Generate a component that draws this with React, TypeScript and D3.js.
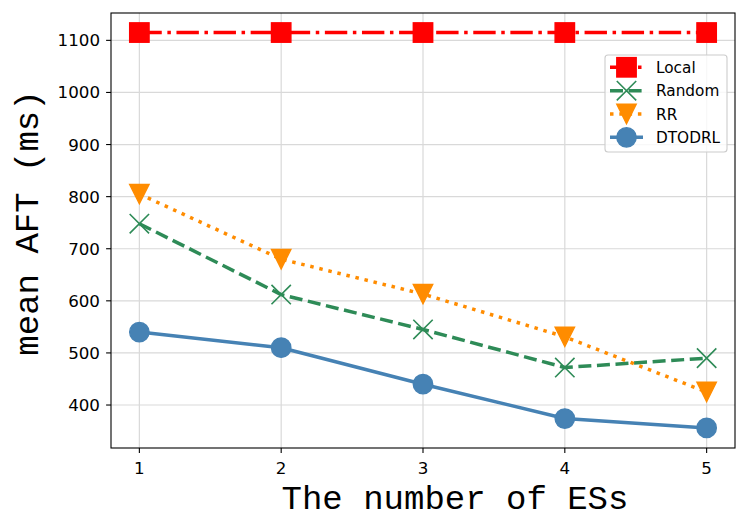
import { useEffect, useRef } from 'react';
import * as d3 from 'd3';

// values
const esCounts = [1, 2, 3, 4, 5];
const localAFT = [1115, 1115, 1115, 1115, 1115];
const randomAFT = [748, 612, 545, 472, 490];
const rrAFT = [805, 680, 613, 531, 425];
const dtodrlAFT = [540, 510, 440, 374, 356];
const yTicks = [400, 500, 600, 700, 800, 900, 1000, 1100];

type Marker = 'square' | 'x' | 'tri' | 'circle';

const series: { name: string; values: number[]; color: string; dash: string | null; marker: Marker }[] = [
  { name: 'Local', values: localAFT, color: '#ff0000', dash: '22.4,5.6,3.5,5.6', marker: 'square' },
  { name: 'Random', values: randomAFT, color: '#2e8b57', dash: '13,5.6', marker: 'x' },
  { name: 'RR', values: rrAFT, color: '#ff8c00', dash: '3.5,5.8', marker: 'tri' },
  { name: 'DTODRL', values: dtodrlAFT, color: '#4682b4', dash: null, marker: 'circle' },
];

const W = 748;
const H = 532;
const MS = 9.7; // half marker size

function drawMarker(g: d3.Selection<SVGGElement, unknown, null, undefined>, kind: Marker, color: string) {
  if (kind === 'square') {
    g.append('rect').attr('x', -MS).attr('y', -MS).attr('width', MS * 2).attr('height', MS * 2)
      .attr('fill', color).attr('stroke', color).attr('stroke-width', 1.4);
  } else if (kind === 'x') {
    g.append('path').attr('d', `M${-MS},${-MS}L${MS},${MS}M${-MS},${MS}L${MS},${-MS}`)
      .attr('fill', 'none').attr('stroke', color).attr('stroke-width', 1.6);
  } else if (kind === 'tri') {
    g.append('path').attr('d', `M0,${MS}L${-MS},${-MS}L${MS},${-MS}Z`)
      .attr('fill', color).attr('stroke', color).attr('stroke-width', 1.4).attr('stroke-linejoin', 'miter');
  } else {
    g.append('circle').attr('r', MS).attr('fill', color).attr('stroke', color).attr('stroke-width', 1.4);
  }
}

export default function App() {
  const svgRef = useRef<SVGSVGElement>(null);

  useEffect(() => {
    if (!svgRef.current) return;
    const svg = d3.select(svgRef.current);
    svg.selectAll('*').remove();

    const left = 111, right = 735, top = 13, bottom = 448;
    const x = d3.scaleLinear().domain([0.8, 5.2]).range([left, right]);
    const y = d3.scaleLinear().domain([317.5, 1152.5]).range([bottom, top]);

    svg.append('rect').attr('width', W).attr('height', H).attr('fill', '#ffffff');

    // grid
    const grid = svg.append('g').attr('stroke', '#d9d9d9').attr('stroke-width', 1.2);
    yTicks.forEach((t) => {
      grid.append('line').attr('x1', left).attr('x2', right).attr('y1', y(t)).attr('y2', y(t));
    });
    esCounts.forEach((t) => {
      grid.append('line').attr('y1', top).attr('y2', bottom).attr('x1', x(t)).attr('x2', x(t));
    });

    // series
    series.forEach((s) => {
      const pts = esCounts.map((c, i) => [c, s.values[i]] as [number, number]);
      const line = d3.line<[number, number]>().x((d) => x(d[0])).y((d) => y(d[1]));
      const p = svg.append('path').datum(pts).attr('d', line)
        .attr('fill', 'none').attr('stroke', s.color).attr('stroke-width', 3.5)
        .attr('stroke-linecap', 'butt').attr('stroke-linejoin', 'round');
      if (s.dash) p.attr('stroke-dasharray', s.dash);
      pts.forEach((d) => {
        const g = svg.append('g').attr('transform', `translate(${x(d[0])},${y(d[1])})`);
        drawMarker(g, s.marker, s.color);
      });
    });

    // spines
    svg.append('rect').attr('x', left).attr('y', top).attr('width', right - left).attr('height', bottom - top)
      .attr('fill', 'none').attr('stroke', '#000').attr('stroke-width', 1.1);

    const font = 'DejaVu Sans, sans-serif';
    // y axis ticks
    yTicks.forEach((t) => {
      svg.append('line').attr('x1', left - 4.9).attr('x2', left).attr('y1', y(t)).attr('y2', y(t))
        .attr('stroke', '#000').attr('stroke-width', 1.1);
      svg.append('text').attr('x', 100).attr('y', y(t) + 6).attr('text-anchor', 'end')
        .attr('font-family', font).attr('font-size', 16.7).attr('fill', '#000').text(String(t));
    });
    // x axis ticks
    esCounts.forEach((t) => {
      svg.append('line').attr('x1', x(t)).attr('x2', x(t)).attr('y1', bottom).attr('y2', bottom + 4.9)
        .attr('stroke', '#000').attr('stroke-width', 1.1);
      svg.append('text').attr('x', x(t)).attr('y', 473.5).attr('text-anchor', 'middle')
        .attr('font-family', font).attr('font-size', 16.7).attr('fill', '#000').text(String(t));
    });

    // axis labels
    const mono = 'Liberation Mono, DejaVu Sans Mono, monospace';
    svg.append('text').attr('x', 455).attr('y', 509).attr('text-anchor', 'middle')
      .attr('font-family', mono).attr('font-size', 34).attr('fill', '#000').text('The number of ESs');
    svg.append('text').attr('transform', 'translate(38,223) rotate(-90)').attr('text-anchor', 'middle')
      .attr('font-family', mono).attr('font-size', 34).attr('fill', '#000').text('mean AFT (ms)');

    // legend
    const lg = svg.append('g');
    lg.append('rect').attr('x', 605).attr('y', 55).attr('width', 122).attr('height', 97).attr('rx', 3)
      .attr('fill', '#ffffff').attr('fill-opacity', 0.8).attr('stroke', '#cccccc').attr('stroke-width', 1.1);
    series.forEach((s, i) => {
      const cy = 67.3 + i * 23.35;
      const l = lg.append('line').attr('x1', 610).attr('x2', 643).attr('y1', cy).attr('y2', cy)
        .attr('stroke', s.color).attr('stroke-width', 3.5);
      if (s.dash) l.attr('stroke-dasharray', s.dash);
      const g = lg.append('g').attr('transform', `translate(626.5,${cy})`);
      drawMarker(g, s.marker, s.color);
      lg.append('text').attr('x', 656).attr('y', cy + 5.5).attr('font-family', font)
        .attr('font-size', 15.3).attr('fill', '#000').text(s.name);
    });
  }, []);

  return (
    <svg ref={svgRef} width={W} height={H}
      style={{ position: 'absolute', left: 0, top: 0, display: 'block' }} />
  );
}
